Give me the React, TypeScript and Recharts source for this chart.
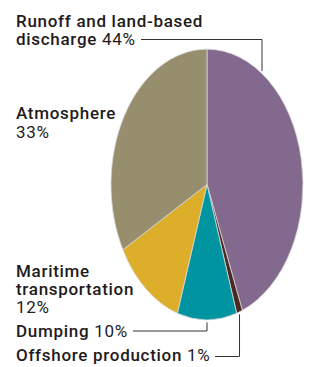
import React from "react";
import { PieChart, Pie, Cell } from "recharts";

const categories = [
  "Runoff and land-based discharge",
  "Offshore production",
  "Dumping",
  "Maritime transportation",
  "Atmosphere",
];
const values = [44, 1, 10, 12, 33];
const colors = ["#84698E", "#4B2823", "#0093A0", "#DCAE2A", "#968E6C"];
const nameLines = [
  ["Runoff and land-based", "discharge"],
  ["Offshore production"],
  ["Dumping"],
  ["Maritime", "transportation"],
  ["Atmosphere"],
];
const percentOnOwnLine = [false, false, false, true, true];

const data = categories.map((name, i) => ({ name, value: values[i] }));

const W = 311;
const H = 367;
const CX = 207;
const CY = 184.5;
const R = 96;
const K = 1.41; // vertical stretch of the pie
const FONT = "Roboto, 'DejaVu Sans', sans-serif";
const TEXT_COLOR = "#1F1B1C";
const LINE_COLOR = "#333333";
const FS = 17;
const LH = 18.4;
const LS = 0.7;

// label layout: x, first baseline y, leader info
const labelPos = [
  { x: 16, y: 26.5, lineStartX: 141, lineY: 39.5, bendX: 262 },
  { x: 16, y: 361, lineStartX: 215, lineY: 356.5 },
  { x: 16, y: 336.5, lineStartX: 133, lineY: 331 },
  { x: 16, y: 276.5 },
  { x: 16, y: 119.3 },
];

const GAP = 2.5;

function ellipsePoint(cx: number, cy: number, r: number, angleDeg: number) {
  const rad = (-angleDeg * Math.PI) / 180;
  return { x: cx + Math.cos(rad) * r, y: cy + Math.sin(rad) * r * K };
}

function renderLabel(props: any) {
  const { cx, cy, outerRadius, midAngle, index, value } = props;
  const pos = labelPos[index];
  const lines = nameLines[index];
  const pct = `${value}%`;
  const textEls: React.ReactNode[] = [];
  lines.forEach((ln, li) => {
    const isLast = li === lines.length - 1;
    textEls.push(
      <tspan key={`n${li}`} x={pos.x} y={pos.y + li * LH} fontWeight={500}>
        {ln}
      </tspan>
    );
    if (isLast && !percentOnOwnLine[index]) {
      textEls.push(
        <tspan key="p" fontWeight={400}>
          {" " + pct}
        </tspan>
      );
    }
  });
  if (percentOnOwnLine[index]) {
    textEls.push(
      <tspan key="p" x={pos.x} y={pos.y + lines.length * LH} fontWeight={400}>
        {pct}
      </tspan>
    );
  }

  let leader: React.ReactNode = null;
  if (index === 0 && pos.bendX !== undefined) {
    const dx = pos.bendX - cx;
    const yEdge = cy - K * Math.sqrt(outerRadius * outerRadius - dx * dx);
    leader = (
      <polyline
        points={`${pos.lineStartX},${pos.lineY} ${pos.bendX},${pos.lineY} ${pos.bendX},${yEdge - GAP}`}
        fill="none"
        stroke={LINE_COLOR}
        strokeWidth={1}
      />
    );
  } else if (pos.lineStartX !== undefined) {
    const p = ellipsePoint(cx, cy, outerRadius, midAngle);
    leader = (
      <polyline
        points={`${pos.lineStartX},${pos.lineY} ${p.x},${pos.lineY} ${p.x},${p.y + GAP}`}
        fill="none"
        stroke={LINE_COLOR}
        strokeWidth={1}
      />
    );
  }

  return (
    <g key={`lbl-${index}`}>
      {leader}
      <text
        fontFamily={FONT}
        fontSize={FS}
        fill={TEXT_COLOR}
        letterSpacing={LS}
      >
        {textEls}
      </text>
    </g>
  );
}

export default function App() {
  return (
    <div style={{ position: "absolute", left: 0, top: 0, width: W, height: H, background: "#fff" }}>
      <style>{`
        .recharts-pie-sector { transform-origin: ${CX}px ${CY}px; transform: scaleY(${K}); }
        .recharts-pie-sector path { vector-effect: non-scaling-stroke; }
      `}</style>
      <PieChart width={W} height={H} margin={{ top: 0, right: 0, bottom: 0, left: 0 }}>
        <Pie
          data={data}
          dataKey="value"
          nameKey="name"
          cx={CX}
          cy={CY}
          outerRadius={R}
          startAngle={90}
          endAngle={-270}
          stroke="#D8D8D8"
          strokeWidth={0.8}
          label={renderLabel}
          labelLine={false}
          isAnimationActive={false}
        >
          {data.map((d, i) => (
            <Cell key={d.name} fill={colors[i]} />
          ))}
        </Pie>
      </PieChart>
    </div>
  );
}
